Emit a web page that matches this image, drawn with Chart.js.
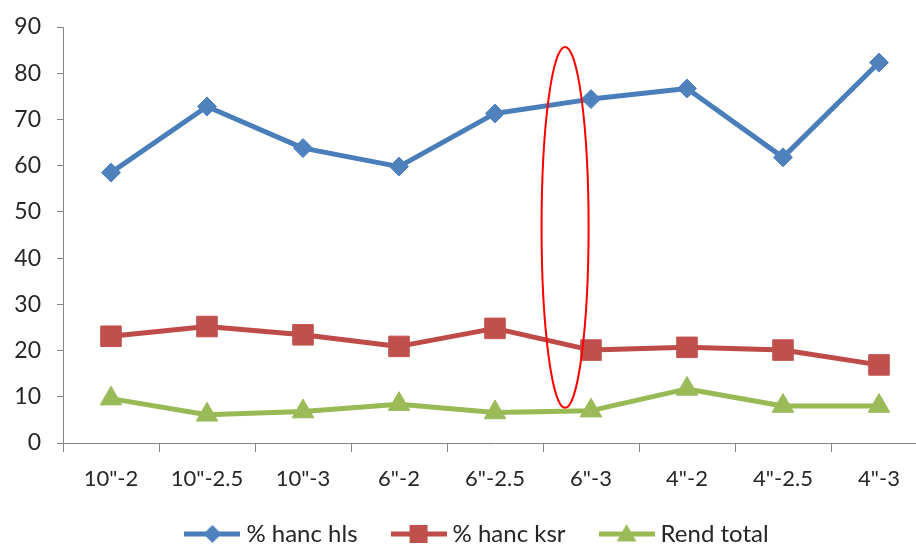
<!DOCTYPE html>
<html>
<head>
<meta charset="utf-8">
<script src="https://cdn.jsdelivr.net/npm/chart.js@4/dist/chart.umd.min.js"></script>
<style>
html,body{margin:0;padding:0;background:#fff;overflow:hidden;}
#wrap{width:916px;height:546px;overflow:hidden;}
</style>
</head>
<body>
<div id="wrap"><canvas id="c" width="930" height="546" style="width:930px;height:546px"></canvas></div>
<script>
const categories = ['10"-2', '10"-2.5', '10"-3', '6"-2', '6"-2.5', '6"-3', '4"-2', '4"-2.5', '4"-3'];
const hancHls = [58.5, 72.8, 63.8, 59.8, 71.3, 74.4, 76.7, 61.8, 82.3];
const hancKsr = [23.1, 25.2, 23.4, 20.9, 24.8, 20.1, 20.7, 20.1, 16.9];
const rendTotal = [9.6, 6.1, 6.8, 8.4, 6.6, 7.0, 11.7, 8.0, 8.0];
const seriesNames = ['% hanc hls', '% hanc ksr', 'Rend total'];
const yTicks = [0, 10, 20, 30, 40, 50, 60, 70, 80, 90];
// highlight ellipse, in data units: category position, value range
const ellipse = {cat: 4.73, halfCat: 0.245, top: 85.7, bottom: 7.6};

const FONT = 'Lato, "Open Sans", sans-serif';
const colors = {
  blue: {line: '#4A7EBB', fill: '#4F81BD'},
  red: {line: '#BE4B48', fill: '#C0504D'},
  green: {line: '#98B954', fill: '#9BBB59'}
};

function legendIcon(col, style, r) {
  const c = document.createElement('canvas');
  c.width = 56; c.height = 26;
  const ctx = c.getContext('2d');
  ctx.strokeStyle = col.line; ctx.lineWidth = 5;
  ctx.beginPath(); ctx.moveTo(0, 13); ctx.lineTo(56, 13); ctx.stroke();
  ctx.fillStyle = col.fill;
  ctx.beginPath();
  if (style === 'diamond') {
    ctx.moveTo(28, 13 - r); ctx.lineTo(28 + r, 13); ctx.lineTo(28, 13 + r); ctx.lineTo(28 - r, 13);
  } else if (style === 'rect') {
    ctx.rect(28 - r, 13 - r, 2 * r, 2 * r);
  } else {
    ctx.moveTo(28, 13 - r); ctx.lineTo(28 + r, 13 + r * 0.75); ctx.lineTo(28 - r, 13 + r * 0.75);
  }
  ctx.closePath(); ctx.fill();
  return c;
}
const icons = [legendIcon(colors.blue, 'diamond', 9), legendIcon(colors.red, 'rect', 9), legendIcon(colors.green, 'tri', 10)];

const ellipsePlugin = {
  id: 'ellipseMark',
  afterLayout(chart) {
    // the original chart is cropped on the right; its legend is centred on the full width
    if (chart.legend) { chart.legend.left += 16; chart.legend.right += 16; }
    // give the category labels room so they are not clipped
    const x = chart.scales.x;
    if (x) { x.bottom += 14; x.height += 14; }
  },
  afterDatasetsDraw(chart) {
    const x = chart.scales.x, y = chart.scales.y, ctx = chart.ctx;
    const cx = x.getPixelForValue(ellipse.cat);
    const rx = x.getPixelForValue(ellipse.cat + ellipse.halfCat) - cx;
    const yt = y.getPixelForValue(ellipse.top), yb = y.getPixelForValue(ellipse.bottom);
    ctx.save();
    ctx.strokeStyle = '#FF0000'; ctx.lineWidth = 2;
    ctx.beginPath();
    ctx.ellipse(cx, (yt + yb) / 2, rx, (yb - yt) / 2, 0, 0, Math.PI * 2);
    ctx.stroke();
    ctx.restore();
  }
};

const mk = (label, data, col, style, radius) => ({
  label, data,
  borderColor: col.line, backgroundColor: col.fill,
  borderWidth: 5,
  pointStyle: style, pointRadius: radius, pointHoverRadius: radius,
  pointBackgroundColor: col.fill, pointBorderColor: col.fill, pointBorderWidth: 1,
  tension: 0, borderJoinStyle: 'round'
});

new Chart(document.getElementById('c'), {
  type: 'line',
  data: {
    labels: categories,
    datasets: [
      mk(seriesNames[0], hancHls, colors.blue, 'rectRot', 9.5),
      mk(seriesNames[1], hancKsr, colors.red, 'rect', 14.5),
      mk(seriesNames[2], rendTotal, colors.green, 'triangle', 12.5)
    ]
  },
  options: {
    responsive: false,
    animation: false,
    events: [],
    layout: {autoPadding: false, padding: {top: 27, right: 3, left: 0, bottom: -10}},
    scales: {
      x: {
        offset: true,
        grid: {offset: true, drawOnChartArea: false, drawTicks: true, tickLength: 9, color: '#868686', lineWidth: 1},
        border: {display: true, color: '#868686', width: 1},
        ticks: {font: {family: FONT, size: 22}, color: '#262626', padding: 14, maxRotation: 0, autoSkip: false},
        afterFit(s) { s.height = 40; s.paddingLeft = 0; s.paddingRight = 0; }
      },
      y: {
        min: 0, max: 90,
        afterBuildTicks(s) { s.ticks = yTicks.map(v => ({value: v})); },
        grid: {drawOnChartArea: false, drawTicks: true, tickLength: 6, color: '#868686'},
        border: {display: true, color: '#868686', width: 1},
        ticks: {font: {family: FONT, size: 23}, color: '#262626', padding: 16},
        afterFit(s) { s.width = 63; s.paddingTop = 0; s.paddingBottom = 0; }
      }
    },
    plugins: {
      tooltip: {enabled: false},
      legend: {
        position: 'bottom',
        labels: {
          font: {family: FONT, size: 24},
          color: '#262626',
          usePointStyle: true,
          pointStyleWidth: 44,
          boxHeight: 22,
          padding: 39,
          generateLabels(chart) {
            return chart.data.datasets.map((d, i) => ({
              text: d.label, pointStyle: icons[i], fillStyle: d.backgroundColor,
              strokeStyle: d.borderColor, lineWidth: 0, hidden: false, datasetIndex: i, fontColor: '#262626'
            }));
          }
        }
      }
    }
  },
  plugins: [ellipsePlugin]
});
</script>
</body>
</html>
